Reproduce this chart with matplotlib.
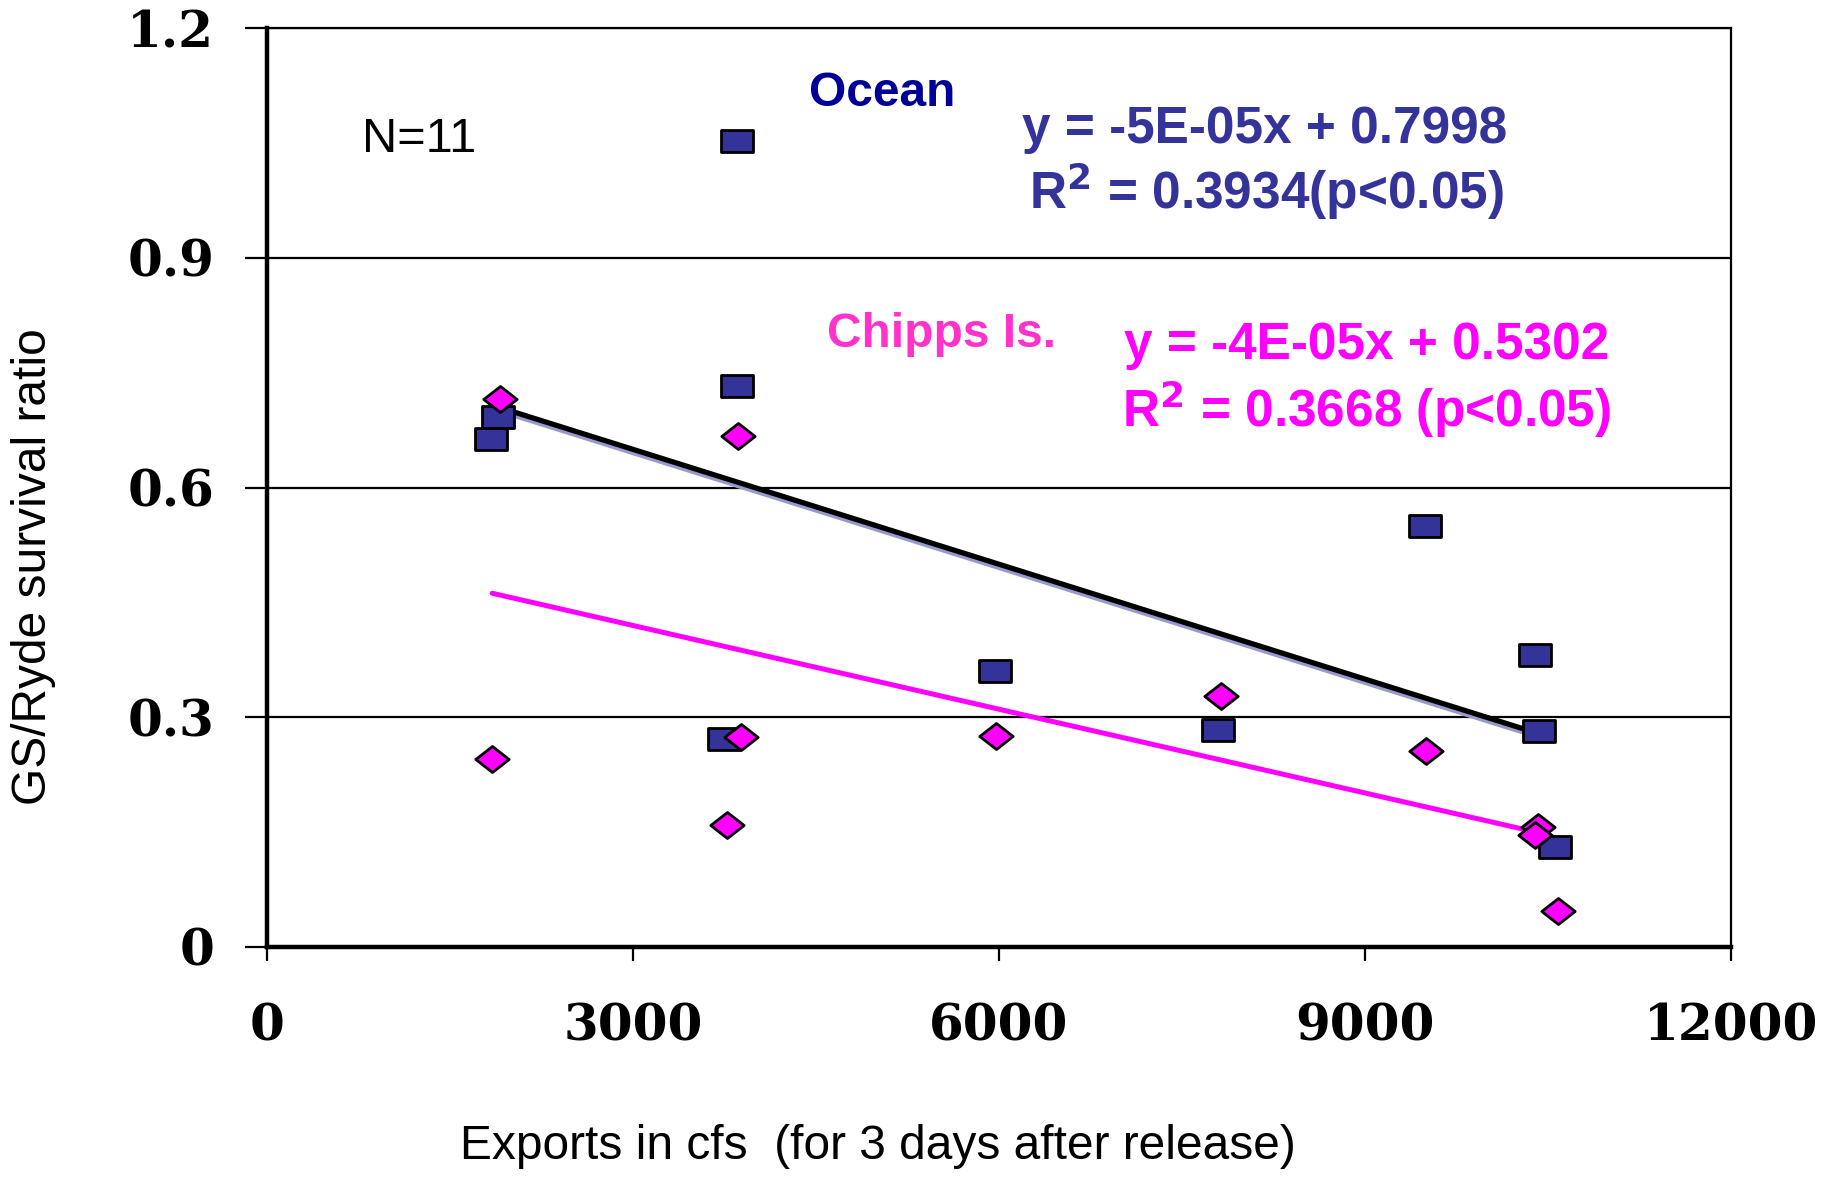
import numpy as np
import matplotlib
matplotlib.use("Agg")
import matplotlib.pyplot as plt
from matplotlib.path import Path

# Ocean recoveries (squares)
ocean_x = [1835, 1893, 3853, 3853, 3747, 5967, 7792, 9493, 10396, 10425, 10559]
ocean_y = [0.663, 0.692, 1.053, 0.732, 0.272, 0.361, 0.283, 0.550, 0.381, 0.282, 0.130]

# Chipps Island recoveries (diamonds)
chipps_x = [1912, 1845, 3862, 3882, 3766, 5976, 7821, 9503, 10415, 10390, 10578]
chipps_y = [0.716, 0.245, 0.667, 0.274, 0.159, 0.276, 0.328, 0.256, 0.157, 0.146, 0.047]

# trend lines (ocean from the printed equation, chipps fitted)
ocean_slope = -5e-05
ocean_icpt = 0.7998
trend_x = [1840, 10420]

xticks = [0, 3000, 6000, 9000, 12000]
yticks = [0, 0.3, 0.6, 0.9, 1.2]
ytick_labels = ['0', '0.3', '0.6', '0.9', '1.2']

ocean_eq = "y = -5E-05x + 0.7998"
ocean_r2 = r"R$^{\mathbf{2}}$ = 0.3934(p<0.05)"
chipps_eq = "y = -4E-05x + 0.5302"
chipps_r2 = r"R$^{\mathbf{2}}$ = 0.3668 (p<0.05)"

navy = '#333399'
magenta = '#ff00ff'

# wide-ish markers like the original spreadsheet
rect = Path([(-1, -0.72), (1, -0.72), (1, 0.72), (-1, 0.72), (-1, -0.72)],
            [Path.MOVETO, Path.LINETO, Path.LINETO, Path.LINETO, Path.CLOSEPOLY])
diam = Path([(-1, 0), (0, 0.78), (1, 0), (0, -0.78), (-1, 0)],
            [Path.MOVETO, Path.LINETO, Path.LINETO, Path.LINETO, Path.CLOSEPOLY])

fig = plt.figure(figsize=(18.38, 11.78), dpi=100)
ax = fig.add_axes([0.1453, 0.1961, 0.9418 - 0.1453, 0.9762 - 0.1961])

ax.set_xlim(0, 12000)
ax.set_ylim(0, 1.2)

for y in yticks[1:]:
    ax.axhline(y, color='black', lw=1.6, zorder=1)

tx = np.array(trend_x, dtype=float)
yo = ocean_slope * tx + ocean_icpt
p_c = np.polyfit(chipps_x, chipps_y, 1)
yc = np.polyval(p_c, [min(chipps_x), trend_x[1]])
ax.plot(tx, yo - 0.004, color='#9999cc', lw=4, zorder=2)
ax.plot(tx, yo, color='black', lw=3.8, zorder=2, solid_capstyle='round')
ax.plot([min(chipps_x), trend_x[1]], yc, color=magenta, lw=3.6, zorder=2,
        solid_capstyle='round')

ax.plot(ocean_x, ocean_y, ls='none', marker=rect, ms=23, mfc=navy,
        mec='black', mew=2, zorder=3)
ax.plot(chipps_x, chipps_y, ls='none', marker=diam, ms=24, mfc=magenta,
        mec='black', mew=2, zorder=4)

for side in ['top', 'right']:
    ax.spines[side].set_linewidth(1.6)
for side in ['left', 'bottom']:
    ax.spines[side].set_linewidth(3.2)

ax.set_xticks(xticks)
ax.set_xticklabels([str(v) for v in xticks])
ax.set_yticks(yticks)
ax.set_yticklabels(ytick_labels)
ax.tick_params(axis='y', direction='out', length=16, width=1.6, pad=22)
ax.tick_params(axis='x', direction='out', length=10, width=1.6, pad=30)
for lab in ax.get_xticklabels() + ax.get_yticklabels():
    lab.set_fontfamily('DejaVu Serif')
    lab.set_fontweight('bold')
    lab.set_fontsize(36)

sans = ['Liberation Sans', 'DejaVu Sans']
fig.text(0.018, 0.519, 'GS/Ryde survival ratio', rotation=90, ha='center',
         va='center', fontsize=34.5, family=sans)
fig.text(0.4777, 0.027, 'Exports in cfs  (for 3 days after release)',
         ha='center', va='center', fontsize=34.5, family=sans)

ax.text(1249, 1.055, 'N=11', fontsize=35, family=sans, ha='center', va='center')
ax.text(5044, 1.115, 'Ocean', fontsize=34.5, family=sans, weight='bold',
        color='#000099', ha='center', va='center')
ax.text(8176, 1.068, ocean_eq, fontsize=37, family=sans, weight='bold',
        color=navy, ha='center', va='center')
ax.text(8190, 0.987, ocean_r2, fontsize=37, family=sans, weight='bold',
        color=navy, ha='center', va='center')
ax.text(5525, 0.800, 'Chipps Is.', fontsize=34.5, family=sans, weight='bold',
        color='#ff33cc', ha='center', va='center')
ax.text(9012, 0.785, chipps_eq, fontsize=37, family=sans, weight='bold',
        color=magenta, ha='center', va='center')
ax.text(9012, 0.703, chipps_r2, fontsize=37, family=sans, weight='bold',
        color=magenta, ha='center', va='center')

fig.savefig('out.png', dpi=100)
